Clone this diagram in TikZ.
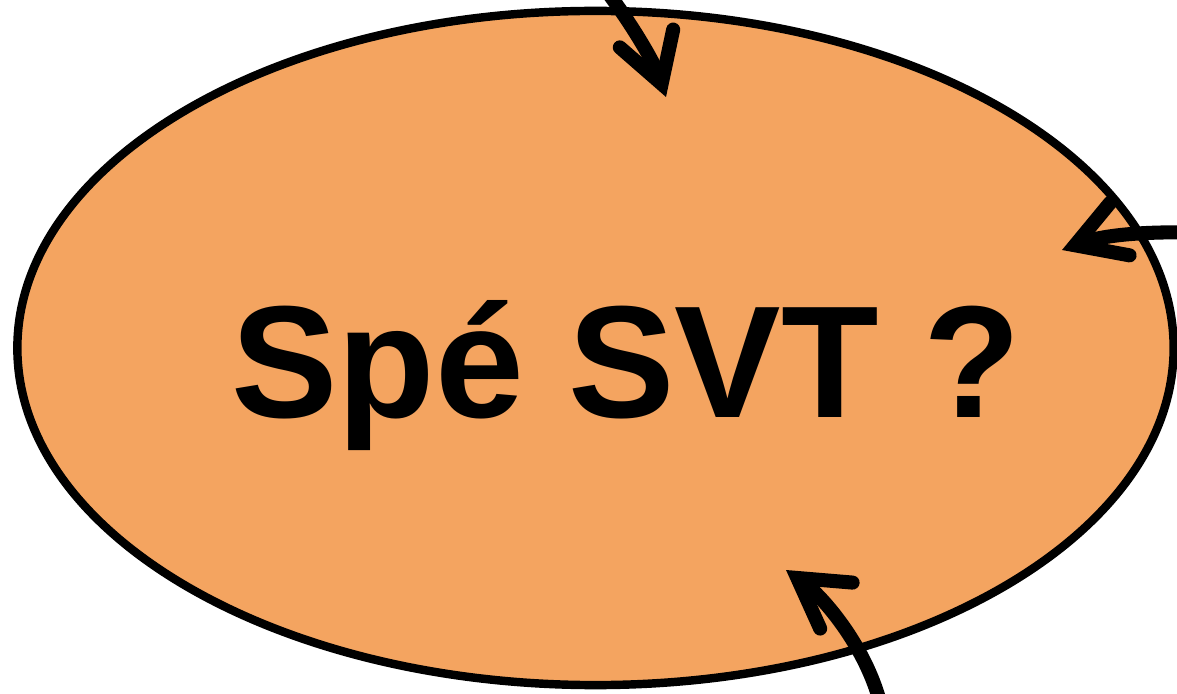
\documentclass[tikz,border=0pt]{standalone}
\usepackage{fontspec}
\setmainfont{Liberation Sans}
\usetikzlibrary{arrows.meta,shapes.geometric}
\definecolor{speorange}{RGB}{244,164,96}
\tikzset{
	bubble/.style={ellipse, draw=black, fill=speorange, line width=6pt, inner sep=0pt,
		minimum width=28.9cm, minimum height=16.85cm},
	bigtext/.style={font=\bfseries\fontsize{113.5}{120}\selectfont, inner sep=0pt},
	link/.style={line width=10pt, -{Straight Barb[line cap=round, line join=miter, length=34pt, width=40pt]}}
}

\begin{document}
\begin{tikzpicture}[x=0.025cm, y=-0.025cm]
			%%%%% START %%%%%
			\useasboundingbox (0, 0) rectangle (1177, 694);
			
			\node[bubble] (spe) at (595.5, 348) {};
			\node[bigtext, anchor=base] (speLabel) at (626, 417) {Spé SVT ?};
			
			\coordinate (topFrom) at (598, -20);
			\coordinate (topTo) at (666, 97);
			\coordinate (rightFrom) at (1210, 233);
			\coordinate (rightTo) at (1062, 250);
			\coordinate (bottomFrom) at (884, 720);
			\coordinate (bottomTo) at (786, 570);
			
			\draw[link] (topFrom) .. controls (630, 20) and (655, 64) .. (topTo);
			\draw[link] (rightFrom) .. controls (1130, 230) and (1095, 238) .. (rightTo);
			\draw[link] (bottomFrom) .. controls (872, 650) and (820, 594) .. (bottomTo);
			
			%%%%% END %%%%%
\end{tikzpicture}
\end{document}
